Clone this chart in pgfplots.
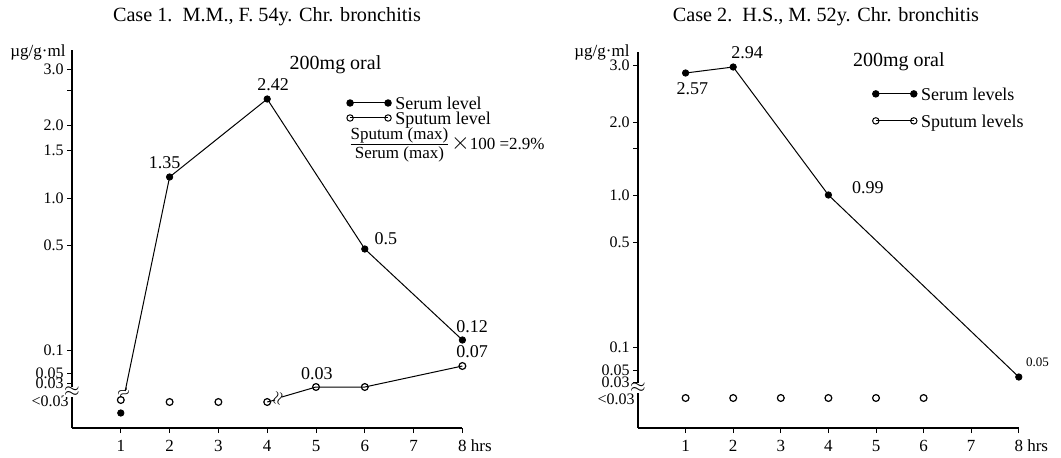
\documentclass[border=0pt]{standalone}
\usepackage{fontspec}
\setmainfont{Liberation Serif}
\usepackage{pgfplots}
\pgfplotsset{compat=1.18}

% y values are the drawn height above the time axis (the chart's scale is broken / non-linear)
\pgfplotsset{
  caseax/.style={
    anchor=south west,
    axis lines*=left,
    axis line style={line width=0.6pt},
    xmin=0, xmax=8, ymin=0,
    xtick={1,...,8},
    xticklabels={1,2,3,4,5,6,7,{8\rlap{ hrs}}},
    tick align=outside,
    major tick length=2.5pt,
    tick style={black, line width=0.5pt},
    tick label style={font=\fontsize{8}{9}\selectfont},
    xticklabel style={font=\fontsize{8.5}{9}\selectfont},
    yticklabel style={inner xsep=1.5pt},
    /pgf/number format/assume math mode=true,
    extra y ticks={27},
    extra y tick labels={<0.03},
    extra y tick style={major tick length=0pt},
    clip=false,
    legend style={draw=none, fill=none, anchor=north west,
      font=\fontsize{9}{10}\selectfont,
      cells={anchor=west, inner ysep=0pt, text height=6pt, text depth=1.5pt},
      inner sep=0pt},
  },
  serum/.style={only marks, mark=*, mark size=1.6pt, black,
    legend image code/.code={\draw[sharp plot, black, line width=0.5pt, mark=*, mark size=1.6pt]
      plot coordinates {(0pt,1pt)(19pt,1pt)};}},
  sputum/.style={only marks, mark=o, mark size=1.7pt, black,
    mark options={fill=white, line width=0.6pt},
    legend image code/.code={\draw[sharp plot, black, line width=0.5pt, mark=o, mark size=1.6pt,
      mark options={fill=white}] plot coordinates {(0pt,1pt)(19pt,1pt)};}},
}
\tikzset{lbl/.style={font=\fontsize{9}{10}\selectfont, inner sep=1pt},
  ttl/.style={font=\fontsize{10.1}{12}\selectfont}}

% Sputum(max)/Serum(max) ratio, set as a compact fraction
\newcommand\ratiofrac{$\vcenter{\offinterlineskip\halign{\hfil##\hfil\cr
  \strut Sputum (max)\cr\noalign{\kern-0.5pt\hrule height 0.4pt\kern0.5pt}
  \strut Serum (max)\cr}}$}

\begin{document}
\begin{tikzpicture}
\path[use as bounding box] (0pt,0pt) rectangle (530.5pt,228.5pt);

\node[ttl] at (133.5pt,220pt) {Case 1.\ \ M.M., F. 54y. Chr. bronchitis};
\node[ttl] at (413pt,220pt) {Case 2.\ \ H.S., M. 52y. Chr. bronchitis};
\node[font=\fontsize{8.5}{9}\selectfont] at (19pt,202.5pt) {µg/g·ml};
\node[font=\fontsize{8.5}{9}\selectfont] at (301pt,202.5pt) {µg/g·ml};

% ---------------- Case 1 ----------------
\begin{axis}[caseax,
    at={(36pt,14.5pt)},
    x=24.4pt, y=0.5pt,
    ymax=378,
    ytick={45,55,78,183,230,278,303,338,359},
    yticklabels={0.03,0.05,0.1,0.5,1.0,1.5,2.0,,3.0},
    legend style={at={(0.703,0.886)}, row sep=-4pt},
]
% serum line (broken below 2 h)
\addplot[black, line width=0.5pt, forget plot]
    coordinates {(1.09,37)(2,251)(4,329)(6,179)(8,88)};
\addplot[serum] coordinates {(1,15)(2,251)(4,329)(6,179)(8,88)};
\addlegendentry{Serum level}
% sputum line (broken after 4 h)
\addplot[black, line width=0.5pt, forget plot] coordinates {(4,26)(4.16,28)};
\addplot[black, line width=0.5pt, forget plot]
    coordinates {(4.3,31)(5,41)(6,41)(8,62)};
\addplot[sputum] coordinates {(1,28)(2,26)(3,26)(4,26)(5,41)(6,41)(8,62)};
\addlegendentry{Sputum level}

\node[fill=white, inner sep=0pt] at (axis cs:0,36) {$\approx$};
\node[inner sep=0pt, rotate=30, scale=0.8] at (axis cs:1.06,35) {$\approx$};
\node[inner sep=0pt, rotate=75, scale=0.9] at (axis cs:4.23,29) {$\approx$};

\node[lbl] at (axis cs:1.9,265) {1.35};
\node[lbl] at (axis cs:4.12,343) {2.42};
\node[lbl] at (axis cs:6.43,189) {0.5};
\node[lbl] at (axis cs:8.2,101) {0.12};
\node[lbl] at (axis cs:8.2,76) {0.07};
\node[lbl] at (axis cs:5.02,54) {0.03};
\node[font=\fontsize{10}{11}\selectfont] at (axis cs:5.4,363) {200mg oral};
\node[anchor=west, inner sep=0pt, font=\fontsize{8.5}{9}\selectfont] at (axis cs:5.7,283)
    {\ratiofrac\,{\large$\times$}100 =2.9\%};
\end{axis}

% ---------------- Case 2 ----------------
\begin{axis}[caseax,
    at={(319pt,14.5pt)},
    x=23.8pt, y=0.5pt,
    ymax=376,
    ytick={46,58,81,186,233,280,306,363},
    yticklabels={0.03,0.05,0.1,0.5,1.0,,2.0,3.0},
    extra y ticks={29},
    legend style={at={(0.615,0.915)}, row sep=2pt},
]
\addplot[black, line width=0.5pt, forget plot]
    coordinates {(1,355)(2,361)(4,233)(8,51)};
\addplot[serum] coordinates {(1,355)(2,361)(4,233)(8,51)};
\addlegendentry{Serum levels}
\addplot[sputum] coordinates {(1,30)(2,30)(3,30)(4,30)(5,30)(6,30)};
\addlegendentry{Sputum levels}

\node[fill=white, inner sep=0pt] at (axis cs:0,40) {$\approx$};

\node[lbl] at (axis cs:2.29,375) {2.94};
\node[lbl] at (axis cs:1.14,339) {2.57};
\node[lbl] at (axis cs:4.83,240) {0.99};
\node[font=\fontsize{6.5}{7}\selectfont, inner sep=1pt] at (axis cs:8.39,66) {0.05};
\node[font=\fontsize{10}{11}\selectfont] at (axis cs:5.48,366) {200mg oral};
\end{axis}
\end{tikzpicture}
\end{document}
